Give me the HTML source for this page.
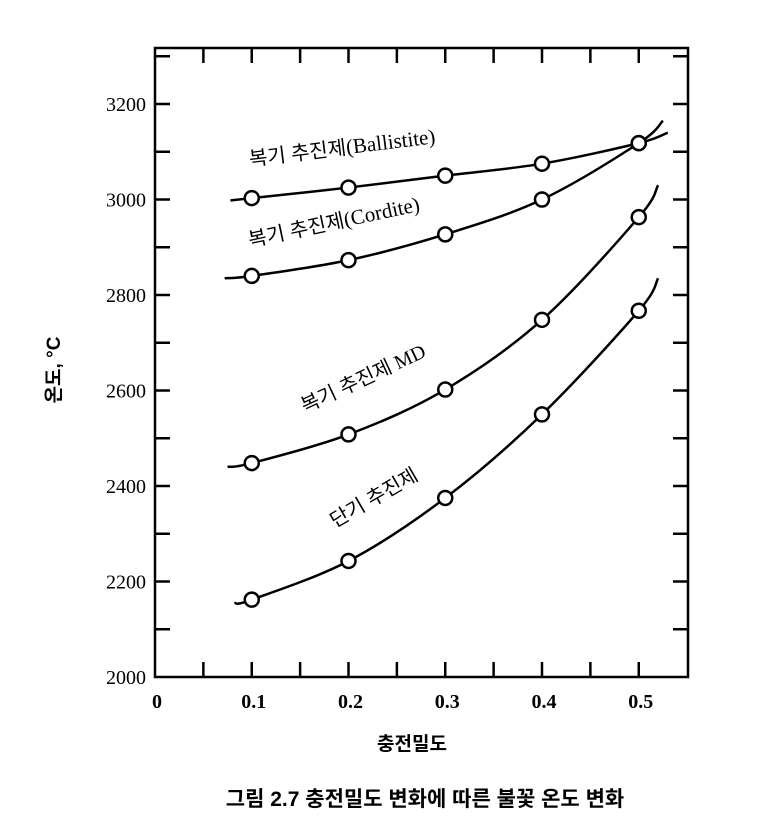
<!DOCTYPE html>
<html><head><meta charset="utf-8"><style>
body{margin:0;background:#fff;}
svg text{font-family:"Liberation Serif","Noto Sans CJK KR",serif;fill:#000;}
.k{font-family:"Liberation Sans","Noto Sans CJK KR",sans-serif;}
</style></head><body>
<svg id="s" width="778" height="817" viewBox="0 0 778 817" xmlns="http://www.w3.org/2000/svg">
<rect x="155" y="48" width="533" height="629" fill="none" stroke="#000" stroke-width="2.5"/>
<g id="g" stroke="#000" stroke-width="2.5" fill="none"></g>
<g id="t" font-size="20"></g>
<text x="250" y="166" font-size="21" transform="rotate(-7 250 166)"><tspan class="k" font-size="20">복기 추진제</tspan>(Ballistite)</text>
<text x="250" y="247" font-size="21" transform="rotate(-12 250 247)"><tspan class="k" font-size="20">복기 추진제</tspan>(Cordite)</text>
<text x="305" y="413" font-size="20" transform="rotate(-25 305 413)"><tspan class="k">복기 추진제</tspan> MD</text>
<text x="335" y="528" font-size="20" class="k" transform="rotate(-30 335 528)">단기 추진제</text>
<text x="60" y="370" font-size="19" class="k" font-weight="bold" text-anchor="middle" transform="rotate(-90 60 370)">온도, °C</text>
<text x="412" y="750" font-size="19" class="k" font-weight="bold" text-anchor="middle">충전밀도</text>
<text x="425" y="806" font-size="21" class="k" font-weight="bold" text-anchor="middle">그림 2.7  충전밀도 변화에 따른 불꽃 온도 변화</text>
</svg>
<script>
var X=v=>155+v*967.5, Y=T=>677-(T-2000)*0.4775;
var g=document.getElementById('g'),t=document.getElementById('t'),ns='http://www.w3.org/2000/svg';
function el(p,n,a){var e=document.createElementNS(ns,n);for(var k in a)e.setAttribute(k,a[k]);p.appendChild(e);return e;}
for(var i=1;i<11;i++){var x=X(i*0.05);el(g,'line',{x1:x,y1:677,x2:x,y2:662});el(g,'line',{x1:x,y1:48,x2:x,y2:63});}
for(var T=2100;T<=3300;T+=100){var y=Y(T);el(g,'line',{x1:155,y1:y,x2:170,y2:y});el(g,'line',{x1:688,y1:y,x2:673,y2:y});}
for(var T=2000;T<=3200;T+=200){var e=el(t,'text',{x:146,y:Y(T)+7,'text-anchor':'end'});e.textContent=T;}
['0','0.1','0.2','0.3','0.4','0.5'].forEach((s,i)=>{var e=el(t,'text',{x:X(i*0.1)+2,y:708,'text-anchor':'middle','font-weight':'bold'});e.textContent=s;});
var S=[
[[0.078,2998],[0.1,3003],[0.2,3025],[0.3,3050],[0.4,3075],[0.5,3118],[0.53,3140]],
[[0.072,2835],[0.1,2840],[0.2,2873],[0.3,2927],[0.4,3000],[0.5,3118],[0.525,3165]],
[[0.075,2440],[0.1,2448],[0.2,2508],[0.3,2602],[0.4,2748],[0.5,2963],[0.52,3030]],
[[0.082,2155],[0.1,2162],[0.2,2243],[0.3,2375],[0.4,2550],[0.5,2767],[0.52,2835]]];
S.forEach(s=>{var p=s.map(q=>[X(q[0]),Y(q[1])]);var d='M'+p[0];
for(var i=0;i<p.length-1;i++){var a=p[Math.max(i-1,0)],b=p[i],c=p[i+1],e=p[Math.min(i+2,p.length-1)];
d+='C'+(b[0]+(c[0]-a[0])/6)+','+(b[1]+(c[1]-a[1])/6)+' '+(c[0]-(e[0]-b[0])/6)+','+(c[1]-(e[1]-b[1])/6)+' '+c;}
el(g,'path',{d:d});
p.slice(1,6).forEach(q=>el(g,'circle',{cx:q[0],cy:q[1],r:7,fill:'#fff'}));});
</script>
</body></html>
